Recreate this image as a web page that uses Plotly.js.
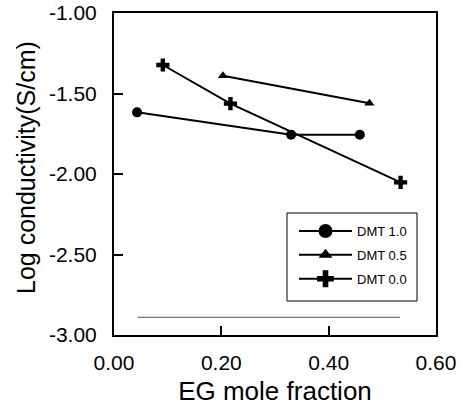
<!DOCTYPE html>
<html>
<head>
<meta charset="utf-8">
<script src="https://cdn.plot.ly/plotly-3.0.1.min.js"></script>
<style>html,body{margin:0;padding:0;background:#fff;}#chart{width:469px;height:409px;}</style>
</head>
<body>
<div id="chart"></div>
<script>
// Data
const dmt10X = [0.043, 0.330, 0.458];
const dmt10Y = [-1.617, -1.756, -1.756];
const dmt05X = [0.203, 0.476];
const dmt05Y = [-1.390, -1.560];
const dmt00X = [0.091, 0.217, 0.534];
const dmt00Y = [-1.323, -1.563, -2.052];
const baseLineX = [0.044, 0.533];
const baseLineY = [-2.89, -2.89];
const seriesNames = ['DMT 1.0', 'DMT 0.5', 'DMT 0.0'];
const xTicks = [0, 0.2, 0.4, 0.6];
const xTickLabels = ['0.00', '0.20', '0.40', '0.60'];
const yTicks = [-3, -2.5, -2, -1.5, -1];
const yTickLabels = ['-3.00', '-2.50', '-2.00', '-1.50', '-1.00'];
const xTitle = 'EG mole fraction';
const yTitle = 'Log conductivity(S/cm)';

const lineStyle = {color: '#000', width: 2};
const symbols = ['circle', 'triangle-up', 'cross'];
const plotSizes = [10, 9, 11];
const legendSizes = [14, 12, 14];
const xs = [dmt10X, dmt05X, dmt00X];
const ys = [dmt10Y, dmt05Y, dmt00Y];

const traces = [];
for (let i = 0; i < 3; i++) {
  traces.push({x: xs[i], y: ys[i], name: seriesNames[i], mode: 'lines+markers',
    showlegend: false, line: lineStyle,
    marker: {symbol: symbols[i], size: plotSizes[i], color: '#000'}});
}
for (let i = 0; i < 3; i++) {
  traces.push({x: [null], y: [null], name: seriesNames[i], mode: 'lines+markers',
    legendgroup: 'g' + i, line: lineStyle,
    marker: {symbol: symbols[i], size: legendSizes[i], color: '#000'}});
}
traces.push({x: baseLineX, y: baseLineY, mode: 'lines', showlegend: false, hoverinfo: 'skip',
  line: {color: '#555', width: 1}});

function px2x(p) { return (p - 114) / 322; }
function px2y(p) { return (335 - p) / 322; }
const shapes = [
  {type: 'rect', xref: 'paper', yref: 'paper', x0: px2x(287), x1: px2x(417), y0: px2y(301), y1: px2y(213),
   line: {color: '#000', width: 1}, fillcolor: 'rgba(0,0,0,0)'}
];

const layout = {
  width: 469, height: 409,
  margin: {l: 114, r: 33, t: 13, b: 74},
  paper_bgcolor: '#fff', plot_bgcolor: '#fff',
  font: {family: 'Liberation Sans, Arial, sans-serif', color: '#000'},
  showlegend: true,
  shapes: shapes,
  annotations: [{
    text: yTitle, textangle: -90, showarrow: false,
    xref: 'paper', yref: 'paper', x: px2x(26), y: px2y(168),
    xanchor: 'center', yanchor: 'middle', font: {size: 25}
  }],
  legend: {
    x: px2x(294), y: px2y(216), xanchor: 'left', yanchor: 'top',
    borderwidth: 0, bgcolor: 'rgba(0,0,0,0)',
    font: {size: 13}, traceorder: 'grouped', tracegroupgap: 4,
    itemwidth: 53
  },
  xaxis: {
    range: [0, 0.6], tickvals: xTicks, ticktext: xTickLabels,
    ticks: 'inside', ticklen: 9, tickwidth: 2, tickcolor: '#000',
    showline: true, linecolor: '#000', linewidth: 2, mirror: true,
    showgrid: false, zeroline: false, ticklabelstandoff: 8,
    tickfont: {size: 21},
    title: {text: xTitle, font: {size: 26}, standoff: 9}
  },
  yaxis: {
    range: [-3, -1], tickvals: yTicks, ticktext: yTickLabels,
    ticks: 'inside', ticklen: 9, tickwidth: 2, tickcolor: '#000',
    showline: true, linecolor: '#000', linewidth: 2, mirror: true,
    showgrid: false, zeroline: false, ticklabelstandoff: 11,
    tickfont: {size: 21}
  }
};

Plotly.newPlot('chart', traces, layout, {displayModeBar: false, staticPlot: true});
</script>
</body>
</html>
